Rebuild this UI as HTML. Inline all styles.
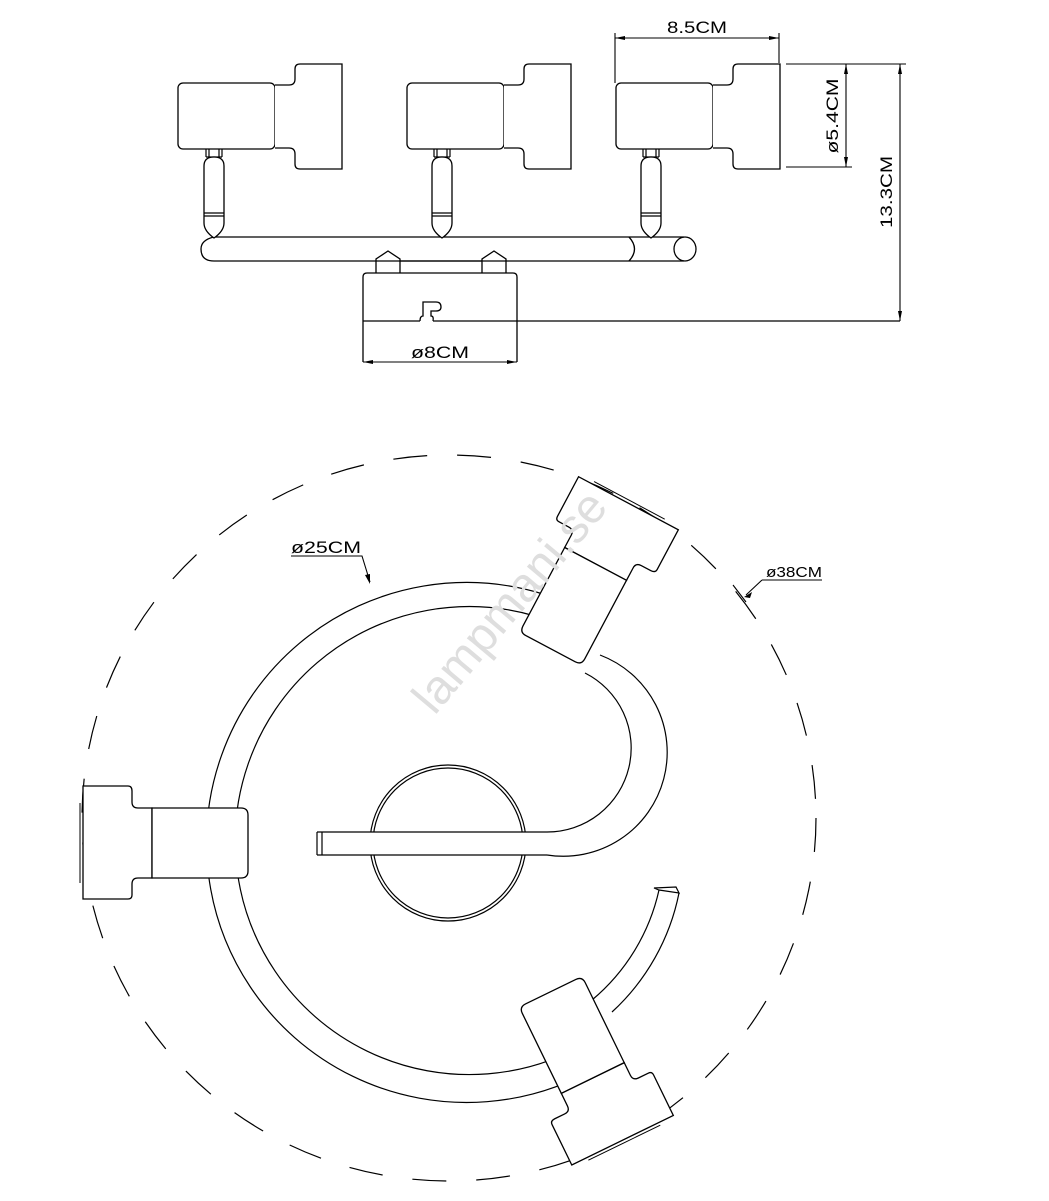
<!DOCTYPE html>
<html><head><meta charset="utf-8"><style>
html,body{margin:0;padding:0;background:#fff;}
svg{display:block;}
text{font-family:"Liberation Sans",sans-serif;fill:#000;}
</style></head><body>
<svg width="1049" height="1201" viewBox="0 0 1049 1201" xmlns="http://www.w3.org/2000/svg">
<defs>
<g id="tl">
<rect x="0" y="0" width="97" height="66" rx="5" fill="#fff" stroke="#000" stroke-width="1.3"/>
<path d="M97,2 H111 Q117,2 117,-4 V-14 Q117,-19 122,-19 H164 V86 H122 Q117,86 117,81 V71 Q117,65 111,65 H97" fill="#fff" stroke="#000" stroke-width="1.3"/>
</g>
<g id="stem">
<path d="M3,0 V8 M19,0 V8 M6,0 V8 M16,0 V8 M3,8 H19" fill="none" stroke="#000" stroke-width="1.2"/>
<path d="M1,17 Q1,8 11,8 Q21,8 21,17 V74 Q21,82 11,89 Q1,82 1,74 Z" fill="#fff" stroke="#000" stroke-width="1.3"/>
<path d="M1,64 H21 M1,67 H21" stroke="#000" stroke-width="1.2"/>
</g>
<g id="pl">
<path d="M0,-57 H45 Q49,-57 49,-52 V-41 Q49,-35 55,-35 H69 V35 H55 Q49,35 49,41 V52 Q49,56 45,56 H0 Z" fill="#fff" stroke="#000" stroke-width="1.3"/>
<path d="M-3,-40 V40" stroke="#000" stroke-width="1"/>
<path d="M69,-35 H158 Q165,-35 165,-28 V28 Q165,35 158,35 H69 Z" fill="#fff" stroke="#000" stroke-width="1.3"/>
</g>
</defs>

<g fill="none" stroke="#000" stroke-width="1.3">
<path d="M214,237 H629 M214,261 H629 M214,237 Q201,240 201,249 Q201,261 214,261"/>
<path d="M629,237 Q640,249 629,261"/>
<path d="M629,237 H684 M629,261 H684"/>
<ellipse cx="685" cy="249" rx="11" ry="12"/>
<path d="M363,362 V277 Q363,273 367,273 H513 Q517,273 517,277 V362"/>
<path d="M363,321 H420 M433,321 H900"/>
<path d="M420,321 Q420,316 423,316 V302 H436 Q441,302 441,307 Q441,311 436,311 H431 V316 Q434,316 433,321"/>
<path d="M376,273 V259 L388,251 L400,259 V273"/>
<path d="M482,273 V259 L494,251 L506,259 V273"/>
<path d="M400,261 H482" />
</g>
<use href="#stem" x="203" y="149"/>
<use href="#stem" x="431" y="149"/>
<use href="#stem" x="640" y="149"/>
<use href="#tl" x="178" y="83"/>
<use href="#tl" x="407" y="83"/>
<use href="#tl" x="616" y="83"/>

<g stroke="#000" stroke-width="1.1" fill="none">
<path d="M615,83 V33 M779,63 V33 M615,38 H779"/>
<path d="M786,64 H852 M786,167 H852 M846,64 V167"/>
<path d="M790,64 H906 M900,64 V321"/>
<path d="M363,362 H517"/>
</g>
<g fill="#000">
<path d="M615,38 l10,-2 v4z M779,38 l-10,-2 v4z"/>
<path d="M846,64 l-2,10 h4z M846,167 l-2,-10 h4z"/>
<path d="M900,64 l-2,10 h4z M900,321 l-2,-10 h4z"/>
<path d="M363,362 l10,-2 v4z M517,362 l-10,-2 v4z"/>
</g>
<text x="697" y="33" font-size="17" text-anchor="middle" textLength="60" lengthAdjust="spacingAndGlyphs">8.5CM</text>
<text x="440" y="358" font-size="17" text-anchor="middle" textLength="58" lengthAdjust="spacingAndGlyphs">ø8CM</text>
<text transform="translate(838,116) rotate(-90)" font-size="17" text-anchor="middle" textLength="75" lengthAdjust="spacingAndGlyphs">ø5.4CM</text>
<text transform="translate(892,192) rotate(-90)" font-size="17" text-anchor="middle" textLength="72" lengthAdjust="spacingAndGlyphs">13.3CM</text>

<ellipse cx="449" cy="818" rx="367" ry="363" fill="none" stroke="#000" stroke-width="1.2" stroke-dasharray="34 30"/>

<g fill="none" stroke="#000" stroke-width="1.2">
<path d="M543,594 A260,260 0 1 0 601,1065"/>
<path d="M535,616 A234,234 0 1 0 590,1041"/>
<path d="M659,890 A200,200 0 0 1 592,1000"/>
<path d="M679,893 A220,220 0 0 1 612,1012"/>
<path d="M654,888 L659,890 L679,893 L676,887 Z"/>
<circle cx="448" cy="843" r="78"/>
<circle cx="448" cy="843" r="75"/>
</g>
<rect x="317" y="832" width="230" height="23" fill="#fff" stroke="none"/>
<path d="M317,832 H547 M317,855 H547 M317,832 V855 M322,832 V855" fill="none" stroke="#000" stroke-width="1.2"/>
<path d="M547,832 A84,84 0 0 0 585,673 M547,855 A104,104 0 0 0 600,655" fill="none" stroke="#000" stroke-width="1.2"/>

<use href="#pl" transform="translate(83,843)"/>
<use href="#pl" transform="translate(628,503) rotate(118)"/>
<use href="#pl" transform="translate(623,1140) rotate(-116)"/>

<text transform="translate(522,612) rotate(-50)" font-size="48" style="fill:#dedede" text-anchor="middle">lampmani.se</text>

<g stroke="#000" stroke-width="1.1" fill="none">
<path d="M291,556 H362 L370,582"/>
<path d="M762,580 H822 M762,580 L746,595 M733,585 L746,602"/>
</g>
<path d="M370,584 l-5,-9 l5,-1z M744,597 l8,-5 l-2,6z" fill="#000"/>
<text x="326" y="553" font-size="17" text-anchor="middle" textLength="70" lengthAdjust="spacingAndGlyphs">ø25CM</text>
<text x="794" y="577" font-size="15" text-anchor="middle" textLength="56" lengthAdjust="spacingAndGlyphs" font-family="Liberation Serif">ø38CM</text>
</svg>
</body></html>
